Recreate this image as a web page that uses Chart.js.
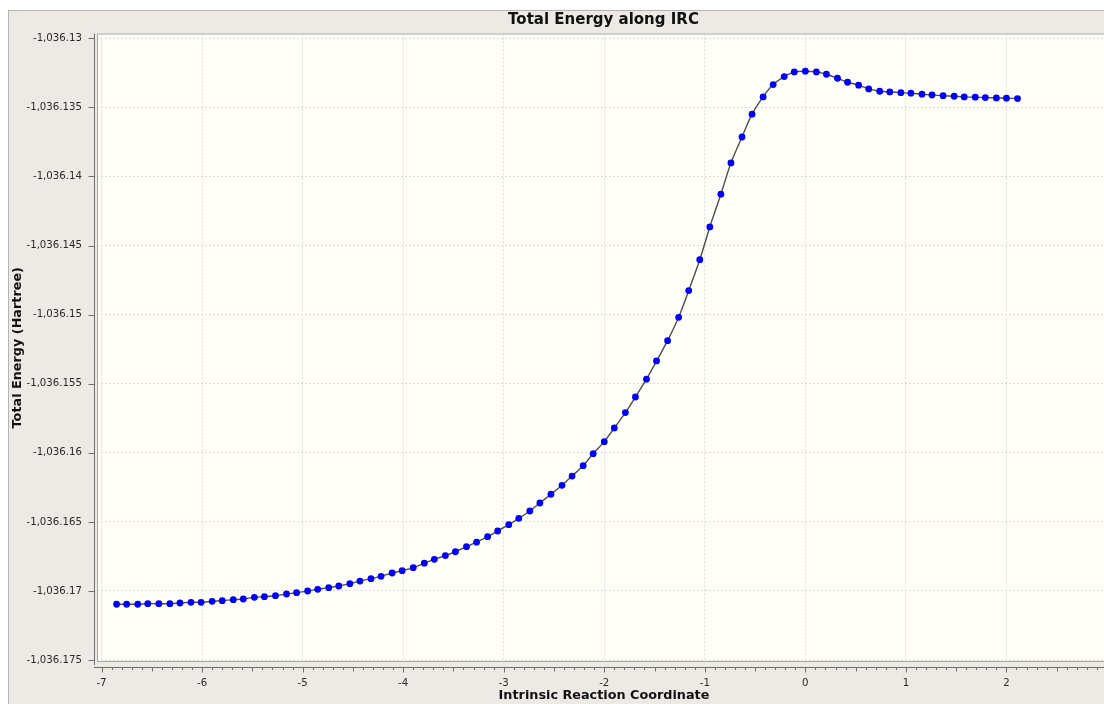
<!DOCTYPE html>
<html>
<head>
<meta charset="utf-8">
<title>Total Energy along IRC</title>
<script src="https://cdn.jsdelivr.net/npm/chart.js@4/dist/chart.umd.min.js"></script>
<style>
    html, body { margin: 0; padding: 0; background: #ffffff; overflow: hidden; }
    #irc { position: absolute; left: 0; top: 0; }
</style>
</head>
<body>
<canvas id="irc" width="1199" height="704"></canvas>
<script>
// IRC points
const irc = [
    -6.85, -6.75, -6.64, -6.54, -6.43, -6.32, -6.22, -6.11, -6.01, -5.90,
    -5.80, -5.69, -5.59, -5.48, -5.38, -5.27, -5.16, -5.06, -4.95, -4.85,
    -4.74, -4.64, -4.53, -4.43, -4.32, -4.22, -4.11, -4.01, -3.90, -3.79,
    -3.69, -3.58, -3.48, -3.37, -3.27, -3.16, -3.06, -2.95, -2.85, -2.74,
    -2.64, -2.53, -2.42, -2.32, -2.21, -2.11, -2.00, -1.90, -1.79, -1.69,
    -1.58, -1.48, -1.37, -1.26, -1.16, -1.05, -0.95, -0.84, -0.74, -0.63,
    -0.53, -0.42, -0.32, -0.21, -0.11, 0.00, 0.11, 0.21, 0.32, 0.42,
    0.53, 0.63, 0.74, 0.84, 0.95, 1.05, 1.16, 1.26, 1.37, 1.48,
    1.58, 1.69, 1.79, 1.90, 2.00, 2.11
];

const energy = [
    -1036.17096, -1036.17096, -1036.17096, -1036.17092, -1036.17092, -1036.17092, -1036.17087, -1036.17082, -1036.17082, -1036.17075,
    -1036.17070, -1036.17063, -1036.17058, -1036.17046, -1036.17041, -1036.17034, -1036.17022, -1036.17012, -1036.17000, -1036.16988,
    -1036.16976, -1036.16964, -1036.16947, -1036.16928, -1036.16911, -1036.16894, -1036.16870, -1036.16853, -1036.16831, -1036.16799,
    -1036.16771, -1036.16744, -1036.16716, -1036.16679, -1036.16647, -1036.16607, -1036.16566, -1036.16520, -1036.16474, -1036.16421,
    -1036.16363, -1036.16300, -1036.16235, -1036.16168, -1036.16093, -1036.16006, -1036.15919, -1036.15820, -1036.15709, -1036.15596,
    -1036.15467, -1036.15335, -1036.15188, -1036.15019, -1036.14826, -1036.14602, -1036.14365, -1036.14128, -1036.13902, -1036.13714,
    -1036.13549, -1036.13424, -1036.13335, -1036.13277, -1036.13243, -1036.13238, -1036.13243, -1036.13260, -1036.13289, -1036.13318,
    -1036.13339, -1036.13366, -1036.13383, -1036.13388, -1036.13393, -1036.13397, -1036.13404, -1036.13410, -1036.13415, -1036.13419,
    -1036.13424, -1036.13426, -1036.13429, -1036.13431, -1036.13433, -1036.13436
];

const xTicks = [-7, -6, -5, -4, -3, -2, -1, 0, 1, 2, 3];
const yTicks = [-1036.13, -1036.135, -1036.14, -1036.145, -1036.15, -1036.155, -1036.16, -1036.165, -1036.17, -1036.175];

const tickFont = { family: "DejaVu Sans", size: 10.2 };
const titleFont = { family: "DejaVu Sans", size: 12.8, weight: "bold" };
const gridColor = "#dcdcdc";

// panel, plot background, offset axis lines and tick marks
const frame = {
    id: "frame",
    beforeDraw(chart) {
        const ctx = chart.ctx;
        const a = chart.chartArea;
        ctx.save();
        ctx.fillStyle = "#ffffff";
        ctx.fillRect(0, 0, chart.width, chart.height);
        ctx.fillStyle = "#edeae6";
        ctx.fillRect(8, 10, chart.width, chart.height);
        ctx.strokeStyle = "#b4b4b4";
        ctx.lineWidth = 1;
        ctx.strokeRect(8.5, 10.5, chart.width, chart.height);
        ctx.fillStyle = "#fffff7";
        ctx.fillRect(a.left, a.top, a.right - a.left, a.bottom - a.top);
        ctx.restore();
    },
    beforeDatasetsDraw(chart) {
        const ctx = chart.ctx;
        const a = chart.chartArea;
        const xs = chart.scales.x;
        const ys = chart.scales.y;
        ctx.save();
        ctx.strokeStyle = "#a8a8a8";
        ctx.lineWidth = 1;
        ctx.strokeRect(a.left + 0.5, a.top + 0.5, a.right - a.left, a.bottom - a.top - 1);

        ctx.strokeStyle = "#6e6e6e";
        const axY = Math.round(a.bottom) + 5.5;
        ctx.beginPath();
        ctx.moveTo(a.left - 3, axY);
        ctx.lineTo(a.right, axY);
        for (let m = -70; m <= 30; m++) {
            const px = Math.round(xs.getPixelForValue(m / 10)) + 0.5;
            if (px < a.left || px > a.right) continue;
            const len = m % 10 === 0 ? 5 : (m % 5 === 0 ? 4 : 2.5);
            ctx.moveTo(px, axY);
            ctx.lineTo(px, axY + len);
        }
        ctx.stroke();

        const axX = Math.round(a.left) - 2.5;
        ctx.beginPath();
        ctx.moveTo(axX, a.top);
        ctx.lineTo(axX, a.bottom + 3);
        yTicks.forEach(function (v) {
            const py = Math.round(ys.getPixelForValue(v)) + 0.5;
            ctx.moveTo(axX, py);
            ctx.lineTo(axX - 6, py);
        });
        ctx.stroke();
        ctx.restore();
    }
};

new Chart(document.getElementById("irc"), {
    type: "scatter",
    data: {
        datasets: [{
            label: "Total Energy",
            data: irc.map((x, i) => ({ x: x, y: energy[i] })),
            showLine: true,
            borderColor: "#4e4e4e",
            borderWidth: 1.4,
            tension: 0.3,
            pointRadius: 3.4,
            pointBorderWidth: 0,
            pointBackgroundColor: "#0000ff",
            pointHoverRadius: 3.4
        }]
    },
    options: {
        responsive: false,
        animation: false,
        events: [],
        layout: { padding: { left: 8, right: 0, top: 0, bottom: 0 } },
        plugins: {
            legend: { display: false },
            tooltip: { enabled: false },
            title: {
                display: true,
                text: "Total Energy along IRC",
                color: "#111111",
                font: { family: "DejaVu Sans", size: 15, weight: "bold" },
                padding: { top: 11, bottom: 4.5 }
            }
        },
        scales: {
            x: {
                type: "linear",
                min: -7.045,
                max: 3.04,
                afterBuildTicks: s => { s.ticks = xTicks.map(v => ({ value: v })); },
                afterFit: s => { s.height = 42; },
                ticks: {
                    autoSkip: false,
                    maxRotation: 0,
                    padding: 1,
                    color: "#2a2a2a",
                    font: tickFont,
                    callback: v => v
                },
                grid: { color: gridColor, drawTicks: true, tickLength: 14, tickColor: "rgba(0,0,0,0)" },
                border: { display: false, dash: [2, 2] },
                title: {
                    display: true,
                    text: "Intrinsic Reaction Coordinate",
                    color: "#111111",
                    font: titleFont,
                    padding: { top: 0, bottom: 1 }
                }
            },
            y: {
                type: "linear",
                min: -1036.17514,
                max: -1036.12965,
                afterBuildTicks: s => { s.ticks = yTicks.map(v => ({ value: v })); },
                afterFit: s => { s.width = 89; },
                ticks: {
                    autoSkip: false,
                    padding: 15,
                    color: "#2a2a2a",
                    font: tickFont,
                    callback: v => v.toLocaleString("en-US", { maximumFractionDigits: 3 })
                },
                grid: { color: gridColor, drawTicks: false },
                border: { display: false, dash: [2, 2] },
                title: {
                    display: true,
                    text: "Total Energy (Hartree)",
                    color: "#111111",
                    font: titleFont,
                    padding: { top: 2, bottom: 0 }
                }
            },
            // empty right-hand box so the chart title centres over the plot
            yPad: {
                type: "linear",
                position: "right",
                min: 0,
                max: 1,
                afterFit: s => { s.width = 88; },
                ticks: { display: false },
                grid: { display: false },
                border: { display: false }
            }
        }
    },
    plugins: [frame]
});
</script>
</body>
</html>
